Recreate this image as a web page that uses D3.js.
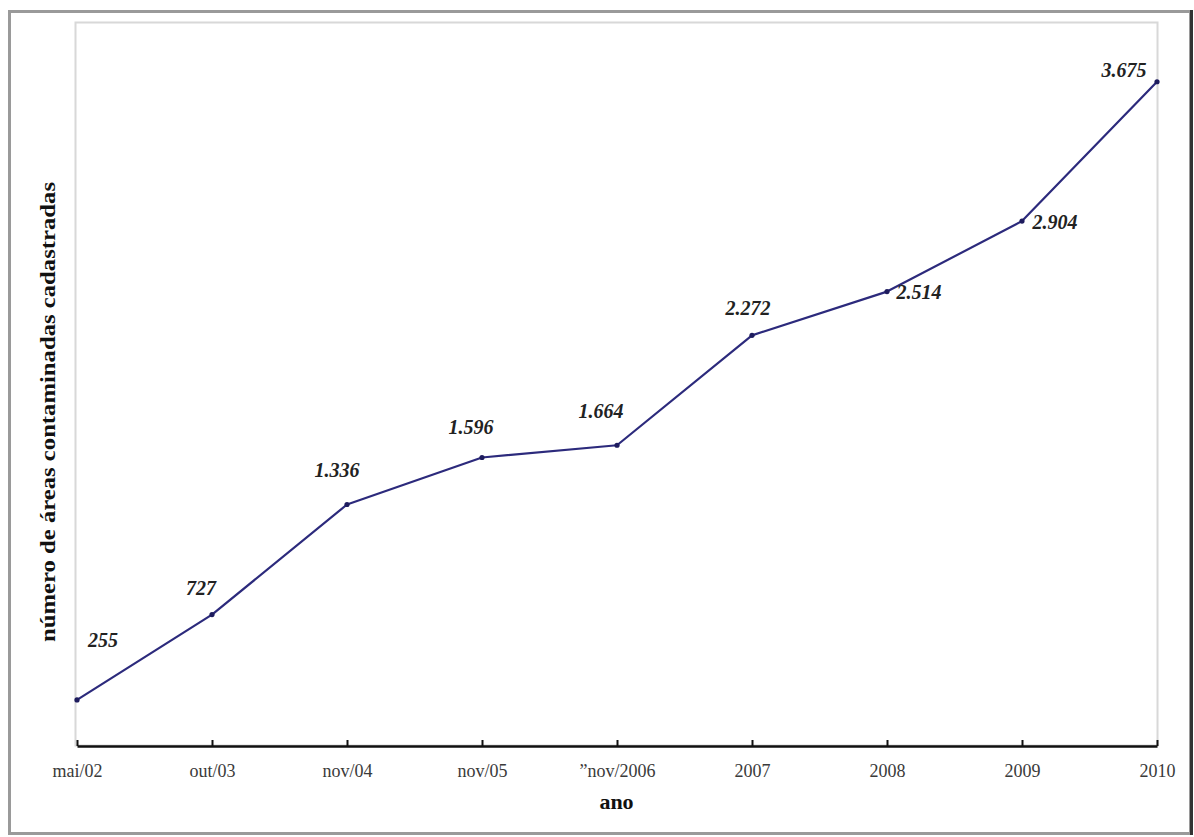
<!DOCTYPE html>
<html>
<head>
<meta charset="utf-8">
<script src="https://cdn.jsdelivr.net/npm/d3@7"></script>
<style>
  html, body { margin: 0; padding: 0; background: #fff; }
  svg { display: block; }
  text { font-family: "Liberation Serif", "Times New Roman", serif; }
</style>
</head>
<body>
<svg id="chart" width="1194" height="837"></svg>
<script>
// Registered contaminated areas, by survey date
const periods = ["mai/02", "out/03", "nov/04", "nov/05", "\u201dnov/2006", "2007", "2008", "2009", "2010"];
const areas = [255, 727, 1336, 1596, 1664, 2272, 2514, 2904, 3675];
const valueLabels = ["255", "727", "1.336", "1.596", "1.664", "2.272", "2.514", "2.904", "3.675"];

// label placement relative to each point (dx, dy to the text baseline centre)
const labelOffsets = [[26, -53], [-11, -20], [-10, -28], [-11, -24], [-16, -27], [-4, -20], [32, 7], [33, 8], [-33, -5]];

const W = 1194, H = 837;
const margin = { left: 76, right: 37, top: 23, bottom: 91 };
const svg = d3.select("#chart");

// outer frame
svg.append("rect").attr("x", 0).attr("y", 0).attr("width", W).attr("height", H).attr("fill", "#fff");
svg.append("rect")
  .attr("x", 9.5).attr("y", 11.5).attr("width", 1181).attr("height", 822)
  .attr("fill", "none").attr("stroke", "#9a9a9a").attr("stroke-width", 3);
svg.append("line")
  .attr("x1", 1191.5).attr("x2", 1191.5).attr("y1", 10).attr("y2", 835)
  .attr("stroke", "#333").attr("stroke-width", 3);

const x = d3.scalePoint()
  .domain(periods)
  .range([margin.left + 1, W - margin.right]);
const y = d3.scaleLinear()
  .domain([0, 4000])
  .range([H - margin.bottom, margin.top]);

// plot area frame (light grey)
svg.append("rect")
  .attr("x", margin.left - 0.5).attr("y", margin.top - 0.5)
  .attr("width", (W - margin.right) - margin.left + 1)
  .attr("height", (H - margin.bottom) - margin.top)
  .attr("fill", "none").attr("stroke", "#d8d8d8").attr("stroke-width", 2);

// x axis with inward ticks
const xAxis = d3.axisBottom(x).tickSizeInner(-6).tickSizeOuter(0).tickPadding(18);
const gx = svg.append("g")
  .attr("transform", `translate(0,${H - margin.bottom})`)
  .call(xAxis);
gx.select(".domain").attr("stroke", "#111").attr("stroke-width", 2.5);
gx.selectAll(".tick line").attr("stroke", "#111").attr("stroke-width", 2);
gx.selectAll(".tick text")
  .attr("font-size", 18)
  .attr("fill", "#3a3a3a")
  .style("font-family", "'Liberation Serif', serif");

// axis titles
svg.append("text")
  .attr("x", (margin.left + W - margin.right) / 2)
  .attr("y", 809)
  .attr("text-anchor", "middle")
  .attr("font-size", 22)
  .attr("font-weight", "bold")
  .attr("fill", "#111")
  .text("ano");

svg.append("text")
  .attr("transform", "translate(55,412) rotate(-90)")
  .attr("text-anchor", "middle")
  .attr("font-size", 22)
  .attr("font-weight", "bold")
  .attr("fill", "#111")
  .attr("textLength", 460)
  .attr("lengthAdjust", "spacingAndGlyphs")
  .text("número de áreas contaminadas cadastradas");

// series line
const line = d3.line()
  .x((d, i) => x(periods[i]))
  .y(d => y(d));

svg.append("path")
  .datum(areas)
  .attr("fill", "none")
  .attr("stroke", "#2c2a7c")
  .attr("stroke-width", 2.2)
  .attr("stroke-linejoin", "round")
  .attr("d", line);

svg.selectAll("circle.pt")
  .data(areas)
  .join("circle")
  .attr("class", "pt")
  .attr("cx", (d, i) => x(periods[i]))
  .attr("cy", d => y(d))
  .attr("r", 2.6)
  .attr("fill", "#1e1c5e");

// value labels
svg.selectAll("text.val")
  .data(areas)
  .join("text")
  .attr("class", "val")
  .attr("x", (d, i) => x(periods[i]) + labelOffsets[i][0])
  .attr("y", (d, i) => y(d) + labelOffsets[i][1])
  .attr("text-anchor", "middle")
  .attr("font-size", 20)
  .attr("font-weight", "bold")
  .attr("font-style", "italic")
  .attr("fill", "#222")
  .text((d, i) => valueLabels[i]);
</script>
</body>
</html>
